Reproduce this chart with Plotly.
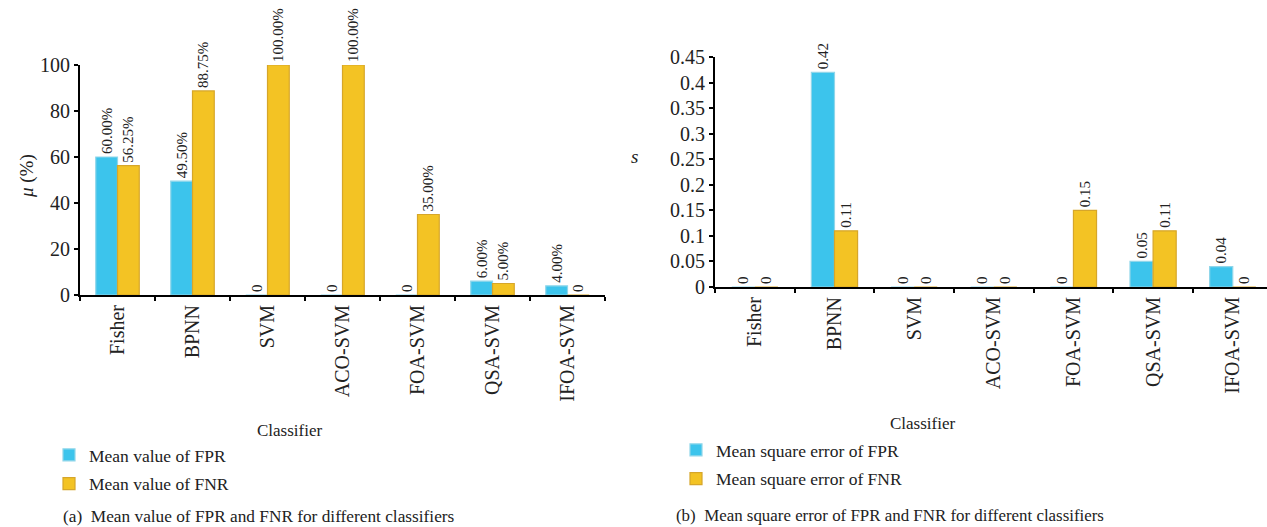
import plotly.graph_objects as go

categories = ["Fisher", "BPNN", "SVM", "ACO-SVM", "FOA-SVM", "QSA-SVM", "IFOA-SVM"]
mean_fpr = [60.00, 49.50, 0, 0, 0, 6.00, 4.00]
mean_fnr = [56.25, 88.75, 100.00, 100.00, 35.00, 5.00, 0]
mean_fpr_text = ["60.00%", "49.50%", "0", "0", "0", "6.00%", "4.00%"]
mean_fnr_text = ["56.25%", "88.75%", "100.00%", "100.00%", "35.00%", "5.00%", "0"]
mse_fpr = [0, 0.42, 0, 0, 0, 0.05, 0.04]
mse_fnr = [0, 0.11, 0, 0, 0.15, 0.11, 0]
mse_fpr_text = ["0", "0.42", "0", "0", "0", "0.05", "0.04"]
mse_fnr_text = ["0", "0.11", "0", "0", "0.15", "0.11", "0"]
y1_ticks = [0, 20, 40, 60, 80, 100]
y2_ticks = [0, 0.05, 0.1, 0.15, 0.2, 0.25, 0.3, 0.35, 0.4, 0.45]

W, H = 1267, 527
BLUE = "#3cc4ec"
BLUE_LINE = "#8fd6ea"
GOLD = "#f3c324"
GOLD_LINE = "#d6a62a"
SERIF = "Liberation Serif, Times New Roman, serif"

fig = go.Figure()

def bar(x, y, text, name, color, line, xa, ya, legend, group):
    return go.Bar(
        x=x, y=y, text=text, name=name, xaxis=xa, yaxis=ya,
        marker=dict(color=color, line=dict(color=line, width=1.2)),
        textposition="outside", textangle=-90, constraintext="none",
        textfont=dict(family=SERIF, size=15, color="#222"),
        cliponaxis=False, legend=legend, legendgroup=group,
        hoverinfo="skip",
    )

fig.add_trace(bar(categories, mean_fpr, mean_fpr_text, "Mean value of FPR", BLUE, BLUE_LINE, "x", "y", "legend", "a1"))
fig.add_trace(bar(categories, mean_fnr, mean_fnr_text, "Mean value of FNR", GOLD, GOLD_LINE, "x", "y", "legend", "a2"))
fig.add_trace(bar(categories, mse_fpr, mse_fpr_text, "Mean square error of FPR", BLUE, BLUE_LINE, "x2", "y2", "legend2", "b1"))
fig.add_trace(bar(categories, mse_fnr, mse_fnr_text, "Mean square error of FNR", GOLD, GOLD_LINE, "x2", "y2", "legend2", "b2"))

axis_common = dict(
    showline=True, linecolor="black", linewidth=2, ticks="outside",
    tickcolor="black", ticklen=4, tickwidth=1.5, showgrid=False, zeroline=False,
    tickfont=dict(family=SERIF, size=20, color="#222"), automargin=False,
)

fig.update_layout(
    width=W, height=H, margin=dict(l=0, r=0, t=0, b=0, autoexpand=False),
    paper_bgcolor="white", plot_bgcolor="white",
    barmode="group", bargap=0.42, bargroupgap=0,
    showlegend=True,
    xaxis=dict(domain=[80 / W, 605 / W], anchor="y", type="category",
               tickangle=-90, tickson="boundaries", range=[-0.5, 6.5], **axis_common),
    yaxis=dict(domain=[1 - 295 / H, 1 - 65 / H], anchor="x", range=[0, 100],
               tickvals=y1_ticks, **axis_common),
    xaxis2=dict(domain=[715 / W, 1.0], anchor="y2", type="category",
                tickangle=-90, tickson="boundaries", range=[-0.5, 6.43], **axis_common),
    yaxis2=dict(domain=[1 - 287 / H, 1 - 57 / H], anchor="x2", range=[0, 0.45],
                tickvals=y2_ticks, ticktext=[f"{v:g}" for v in y2_ticks], **axis_common),
    legend=dict(x=49 / W, y=1 - 437 / H, xanchor="left", yanchor="top",
                font=dict(family=SERIF, size=17.5, color="#222"),
                tracegroupgap=3, bgcolor="rgba(0,0,0,0)"),
    legend2=dict(x=676 / W, y=1 - 432 / H, xanchor="left", yanchor="top",
                 font=dict(family=SERIF, size=17.5, color="#222"),
                 tracegroupgap=3, bgcolor="rgba(0,0,0,0)"),
)

def ann(text, x, y, size=17, angle=0):
    fig.add_annotation(text=text, x=x / W, y=1 - y / H, xref="paper", yref="paper",
                       xanchor="center", yanchor="middle", showarrow=False,
                       textangle=angle, font=dict(family=SERIF, size=size, color="#222"))

ann("Classifier", 289, 430)
ann("Classifier", 922, 423)
ann("<i>μ</i> (%)", 27, 176, size=19, angle=-90)
ann("<i>s</i>", 634, 157, size=19)
ann("(a)  Mean value of FPR and FNR for different classifiers", 259, 516, size=17.3)
ann("(b)  Mean square error of FPR and FNR for different classifiers", 890, 515, size=16.9)

fig.write_html("out.html", config={"displayModeBar": False},
               post_script="document.body.style.margin='0px';document.body.style.overflow='hidden';")
